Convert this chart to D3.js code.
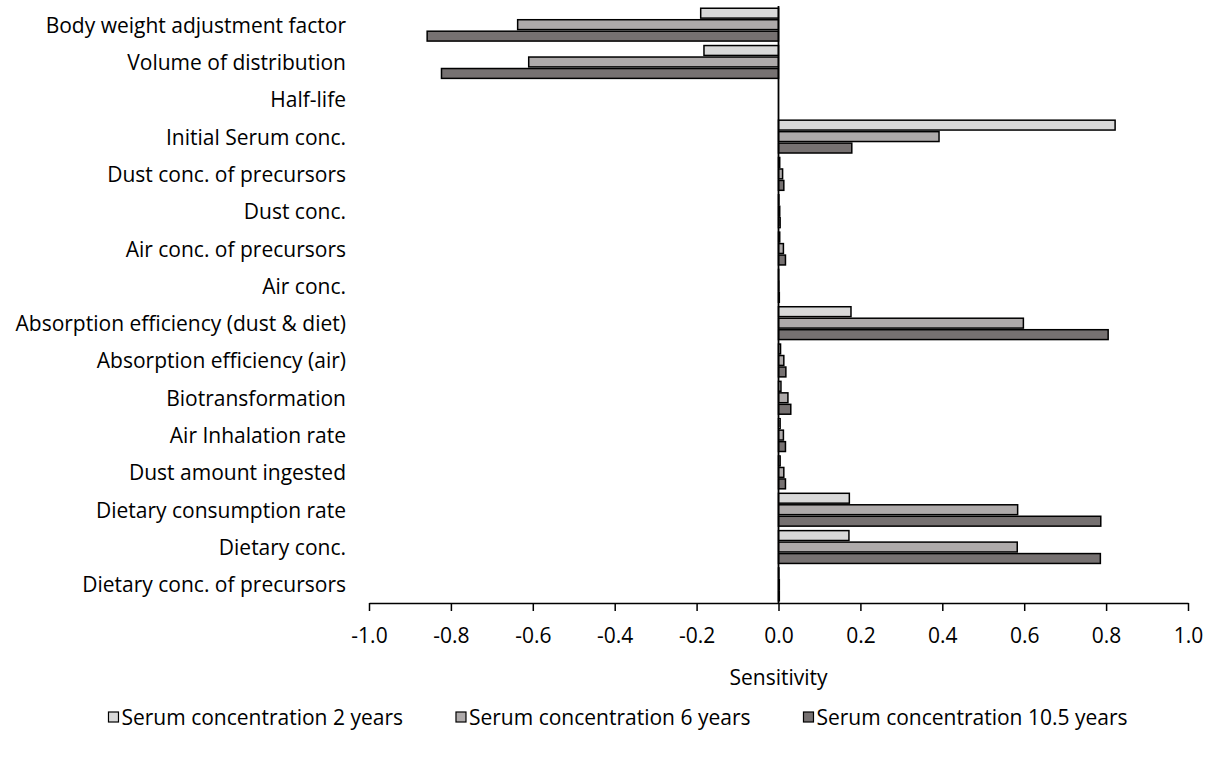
<!DOCTYPE html>
<html>
<head>
<meta charset="utf-8">
<script src="https://cdn.jsdelivr.net/npm/d3@7"></script>
<style>
    body { margin: 0; background: #fff; }
    text { font-family: "Open Sans", sans-serif; fill: #000; }
</style>
</head>
<body>
<div id="my_dataviz"></div>
<script>
// categories, top to bottom
var categories = [
    "Body weight adjustment factor",
    "Volume of distribution",
    "Half-life",
    "Initial Serum conc.",
    "Dust conc. of precursors",
    "Dust conc.",
    "Air conc. of precursors",
    "Air conc.",
    "Absorption efficiency (dust & diet)",
    "Absorption efficiency (air)",
    "Biotransformation",
    "Air Inhalation rate",
    "Dust amount ingested",
    "Dietary consumption rate",
    "Dietary conc.",
    "Dietary conc. of precursors"
];

var seriesNames = [
    "Serum concentration 2 years",
    "Serum concentration 6 years",
    "Serum concentration 10.5 years"
];

var serum2 = [-0.190, -0.182, 0, 0.822, 0.003, 0.001, 0.003, 0.0005, 0.177, 0.005, 0.006, 0.004, 0.004, 0.173, 0.172, 0.001];
var serum6 = [-0.637, -0.610, 0, 0.392, 0.010, 0.003, 0.012, 0.001, 0.598, 0.013, 0.023, 0.012, 0.013, 0.584, 0.583, 0.002];
var serum105 = [-0.858, -0.823, 0, 0.179, 0.013, 0.004, 0.017, 0.002, 0.805, 0.018, 0.030, 0.017, 0.017, 0.787, 0.786, 0.002];

var xTicks = [-1.0, -0.8, -0.6, -0.4, -0.2, 0.0, 0.2, 0.4, 0.6, 0.8, 1.0];

var colors = ["#d9d9d9", "#aeaaaa", "#767171"];

var seriesValues = [serum2, serum6, serum105];

var width = 1212, height = 761;
var plot = {left: 369, right: 1188, top: 6, bottom: 603};
var fontSize = "21px";

var svg = d3.select("#my_dataviz")
  .append("svg")
    .attr("width", width)
    .attr("height", height);

// scales
var x = d3.scaleLinear()
    .domain([-1, 1])
    .range([plot.left, plot.right]);

var y = d3.scaleBand()
    .domain(categories)
    .range([plot.top, plot.bottom])
    .paddingInner(0.12)
    .paddingOuter(0.06);

var ySub = d3.scaleBand()
    .domain(d3.range(seriesNames.length))
    .range([0, y.bandwidth()])
    .paddingInner(0.14);

// bars
var rows = categories.map(function(c, i) {
    return { cat: c, vals: seriesValues.map(function(s) { return s[i]; }) };
});

var groups = svg.append("g").selectAll("g")
  .data(rows)
  .enter().append("g")
    .attr("transform", function(d) { return "translate(0," + y(d.cat) + ")"; });

groups.selectAll("rect")
  .data(function(d) { return d.vals.map(function(v, k) { return {k: k, v: v}; }); })
  .enter().append("rect")
    .attr("x", function(d) { return x(Math.min(0, d.v)); })
    .attr("y", function(d) { return ySub(d.k); })
    .attr("width", function(d) { return Math.abs(x(d.v) - x(0)); })
    .attr("height", ySub.bandwidth())
    .attr("fill", function(d) { return colors[d.k]; })
    .attr("stroke", "#000")
    .attr("stroke-width", 1.5);

// zero line
svg.append("line")
    .attr("x1", x(0)).attr("x2", x(0))
    .attr("y1", plot.top).attr("y2", plot.bottom)
    .attr("stroke", "#000")
    .attr("stroke-width", 1.8);

// category labels
svg.append("g").selectAll("text")
  .data(categories)
  .enter().append("text")
    .attr("x", 346)
    .attr("y", function(d) { return y(d) + y.bandwidth() / 2; })
    .attr("text-anchor", "end")
    .attr("dominant-baseline", "central")
    .style("font-size", fontSize)
    .text(function(d) { return d; });

// X axis
var xAxis = svg.append("g")
    .attr("transform", "translate(0," + plot.bottom + ")")
    .call(d3.axisBottom(x)
        .tickValues(xTicks)
        .tickSize(8)
        .tickSizeOuter(0)
        .tickPadding(17)
        .tickFormat(function(d) { return d.toFixed(1); }));
xAxis.select(".domain").attr("stroke", "#000").attr("stroke-width", 1.5);
xAxis.selectAll(".tick line").attr("stroke", "#000").attr("stroke-width", 1.5);
xAxis.selectAll(".tick text")
    .style("font-size", fontSize)
    .style("font-family", "'Open Sans', sans-serif")
    .attr("fill", "#000");

// axis title
svg.append("text")
    .attr("x", x(0))
    .attr("y", 677)
    .attr("text-anchor", "middle")
    .attr("dominant-baseline", "central")
    .style("font-size", fontSize)
    .text("Sensitivity");

// legend
var gap = 53;
var legend = svg.append("g");
var lx = 0;
seriesNames.forEach(function(name, k) {
    var item = legend.append("g").attr("transform", "translate(" + lx + ",0)");
    item.append("rect")
        .attr("x", 0).attr("y", -5)
        .attr("width", 10).attr("height", 10)
        .attr("fill", colors[k])
        .attr("stroke", "#000")
        .attr("stroke-width", 1.2);
    var t = item.append("text")
        .attr("x", 13)
        .attr("y", 0)
        .attr("dominant-baseline", "central")
        .style("font-size", fontSize)
        .text(name);
    lx += 13 + t.node().getComputedTextLength() + gap;
});
var legendW = lx - gap;
legend.attr("transform", "translate(" + (618 - legendW / 2) + ",717)");
</script>
</body>
</html>
